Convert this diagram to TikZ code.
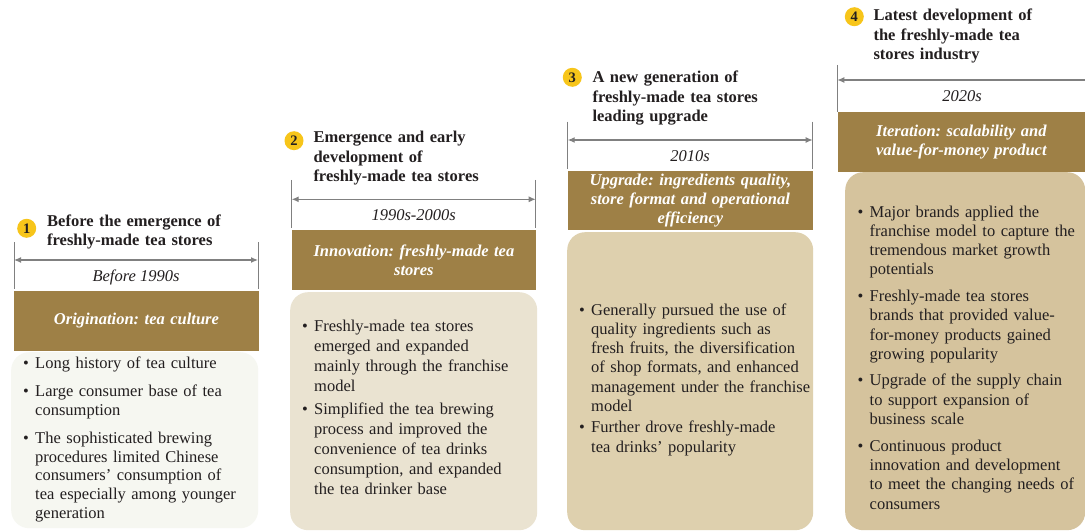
\documentclass[tikz,border=0pt]{standalone}
\usepackage{fontspec}
\setmainfont{Liberation Serif}
\usetikzlibrary{arrows.meta}

\definecolor{barbrown}{HTML}{9E8046}
\definecolor{bodyA}{HTML}{F6F7F1}
\definecolor{bodyB}{HTML}{EAE3D1}
\definecolor{bodyC}{HTML}{DED0AE}
\definecolor{bodyD}{HTML}{D5C39D}
\definecolor{numyellow}{HTML}{F7C51A}
\definecolor{ink}{HTML}{231F20}
\definecolor{guide}{HTML}{808080}

\frenchspacing
\newlength{\bind}\setlength{\bind}{12pt}
\newcommand{\bitem}[1]{\hangindent=\bind\hangafter=1\noindent\makebox[\bind][l]{\textbullet}#1\par}
\newcommand{\nl}{\newline}

\tikzset{
  titletext/.style={anchor=base west, inner sep=0pt, text width=230pt, align=left,
    font=\fontsize{16.5}{19.5}\selectfont\bfseries\frenchspacing, text=ink},
  numdot/.style={circle, fill=numyellow, inner sep=0pt, minimum size=19pt,
    font=\fontsize{14.5}{14.5}\selectfont\bfseries, text=ink},
  periodtext/.style={anchor=base, inner sep=0pt, font=\fontsize{16.5}{19.5}\selectfont\itshape, text=ink},
  barbox/.style={fill=barbrown, anchor=north west, inner sep=0pt, text width=236pt, align=center,
    font=\fontsize{16.5}{19.4}\selectfont\bfseries\itshape\frenchspacing, text=white},
  bodybox/.style={rounded corners=18pt, anchor=north west, inner sep=0pt},
  bodytext/.style={anchor=base west, inner sep=0pt, text width=250pt, text=ink},
  tickline/.style={draw=guide, line width=0.8pt},
  spanarrow/.style={draw=guide, line width=1.2pt},
  tipA/.style={{Latex[length=7pt,width=6pt]}-{Latex[length=7pt,width=6pt]}},
  tipL/.style={{Latex[length=7pt,width=6pt]}-},
}

\begin{document}
\begin{tikzpicture}[x=1pt,y=-1pt]
\fill[white] (0,0) rectangle (1085,532);
\useasboundingbox (0,0) rectangle (1085,532);

% ---------- body boxes ----------
\node[bodybox, fill=bodyA, minimum width=247pt, minimum height=176pt] (body1) at (11,352) {};
\node[bodybox, fill=bodyB, minimum width=247pt, minimum height=238pt] (body2) at (290,292) {};
\node[bodybox, fill=bodyC, minimum width=246pt, minimum height=298pt] (body3) at (567,232) {};
\node[bodybox, fill=bodyD, minimum width=240pt, minimum height=358pt] (body4) at (845,172) {};

% ---------- bars ----------
\node[barbox, minimum width=245.5pt, minimum height=60pt] (bar1) at (13.5,290.7) {Origination: tea culture};
\node[barbox, minimum width=244pt, minimum height=60pt] (bar2) at (291.7,230) {Innovation: freshly-made tea\\stores};
\node[barbox, minimum width=245pt, minimum height=59.3pt] (bar3) at (567.7,170.7) {Upgrade: ingredients quality,\\store format and operational\\efficiency};
\node[barbox, minimum width=247.7pt, minimum height=60pt] (bar4) at (837.3,111.7) {Iteration: scalability and\\value-for-money product};

% ---------- ticks and span arrows ----------
\coordinate (t1lt) at (14,242);   \coordinate (t1lb) at (14,289);
\coordinate (t1rt) at (258,242);  \coordinate (t1rb) at (258,289);
\coordinate (a1l) at (14,260);    \coordinate (a1r) at (258,260);
\draw[tickline] (t1lt) -- (t1lb);
\draw[tickline] (t1rt) -- (t1rb);
\draw[spanarrow, tipA] (a1l) -- (a1r);

\coordinate (t2lt) at (291.7,180);  \coordinate (t2lb) at (291.7,228);
\coordinate (t2rt) at (535.7,180);  \coordinate (t2rb) at (535.7,228);
\coordinate (a2l) at (291.7,199.3); \coordinate (a2r) at (535.7,199.3);
\draw[tickline] (t2lt) -- (t2lb);
\draw[tickline] (t2rt) -- (t2rb);
\draw[spanarrow, tipA] (a2l) -- (a2r);

\coordinate (t3lt) at (567.7,121.7);  \coordinate (t3lb) at (567.7,169.3);
\coordinate (t3rt) at (812.7,121.7);  \coordinate (t3rb) at (812.7,169.3);
\coordinate (a3l) at (567.7,140);     \coordinate (a3r) at (812.7,140);
\draw[tickline] (t3lt) -- (t3lb);
\draw[tickline] (t3rt) -- (t3rb);
\draw[spanarrow, tipA] (a3l) -- (a3r);

\coordinate (t4lt) at (837.3,65);  \coordinate (t4lb) at (837.3,111.7);
\coordinate (a4l) at (837.3,80);   \coordinate (a4r) at (1085,80);
\draw[tickline] (t4lt) -- (t4lb);
\draw[spanarrow, tipL] (a4l) -- (a4r);

% ---------- period labels ----------
\node[periodtext] (per1) at (136,281) {Before 1990s};
\node[periodtext] (per2) at (413.7,221) {1990s-2000s};
\node[periodtext] (per3) at (690.2,161.7) {2010s};
\node[periodtext] (per4) at (962,101.7) {2020s};

% ---------- numbered titles ----------
\node[numdot] (n1) at (26.7,228.3) {1};
\node[titletext] (title1) at (47,226) {Before the emergence of\\freshly-made tea stores};
\node[numdot] (n2) at (294,140.7) {2};
\node[titletext] (title2) at (313.3,142.7) {Emergence and early\\development of\\freshly-made tea stores};
\node[numdot] (n3) at (572.3,77.3) {3};
\node[titletext] (title3) at (592.3,82.7) {A new generation of\\freshly-made tea stores\\leading upgrade};
\node[numdot] (n4) at (854.3,16.7) {4};
\node[titletext] (title4) at (873.3,20.7) {Latest development of\\the freshly-made tea\\stores industry};

% ---------- body texts ----------
\node[bodytext, font=\fontsize{16.5}{18.7}\selectfont\raggedright] (text1) at (23,368) {%
\bitem{Long history of tea culture}\vspace{9.6pt}
\bitem{Large consumer base of tea\nl consumption}\vspace{9.6pt}
\bitem{The sophisticated brewing\nl procedures limited Chinese\nl consumers’ consumption of\nl tea especially among younger\nl generation}};

\node[bodytext, font=\fontsize{16.5}{20}\selectfont\raggedright] (text2) at (302,331) {%
\bitem{Freshly-made tea stores\nl emerged and expanded\nl mainly through the franchise\nl model}\vspace{3.3pt}
\bitem{Simplified the tea brewing\nl process and improved the\nl convenience of tea drinks\nl consumption, and expanded\nl the tea drinker base}};

\node[bodytext, font=\fontsize{16.5}{19.3}\selectfont\raggedright] (text3) at (579,315) {%
\bitem{Generally pursued the use of\nl quality ingredients such as\nl fresh fruits, the diversification\nl of shop formats, and enhanced\nl management under the franchise\nl model}\vspace{2pt}
\bitem{Further drove freshly-made\nl tea drinks’ popularity}};

\node[bodytext, font=\fontsize{16.5}{19.3}\selectfont\raggedright] (text4) at (857.5,217) {%
\bitem{Major brands applied the\nl franchise model to capture the\nl tremendous market growth\nl potentials}\vspace{7.3pt}
\bitem{Freshly-made tea stores\nl brands that provided value-\nl for-money products gained\nl growing popularity}\vspace{7.3pt}
\bitem{Upgrade of the supply chain\nl to support expansion of\nl business scale}\vspace{7.3pt}
\bitem{Continuous product\nl innovation and development\nl to meet the changing needs of\nl consumers}};
\end{tikzpicture}
\end{document}
